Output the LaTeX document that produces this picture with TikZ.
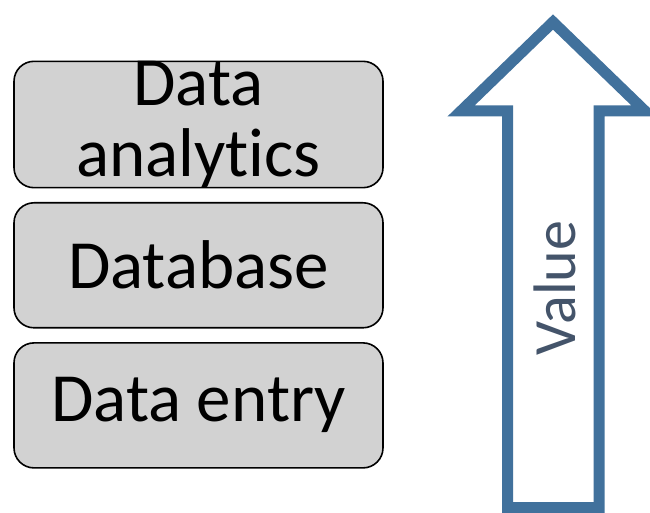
\documentclass[tikz,border=0pt]{standalone}
\usepackage{fontspec}
\setmainfont[Ligatures=NoCommon]{Carlito}
\usetikzlibrary{positioning}
\definecolor{arrowblue}{HTML}{41719C}
\definecolor{valuetext}{HTML}{44546A}
\begin{document}
\begin{tikzpicture}[x=1pt,y=1pt,
    layer/.style={draw, line width=1.6pt, rounded corners=20pt, fill=gray!35,
                  minimum width=369pt, minimum height=125pt, inner sep=0pt,
                  font=\fontsize{69}{71}\selectfont, align=center}]
  \useasboundingbox (0,0) rectangle (650,512);

  \node[layer] (analytics) at (198.5,387.5) {Data\\analytics};
  \node[layer, below=13.5pt of analytics] (database) {Database};
  \node[layer, below=13.5pt of database] (entry) {Data entry};

  % value arrow
  \draw[arrowblue, line width=11pt, miter limit=10, fill=white]
    (507.5,4.5) -- (599,4.5) -- (599,401) -- (645,401) -- (553,490)
    -- (461,401) -- (507.5,401) -- cycle;
  \node[rotate=90, text=valuetext, font=\fontsize{60}{62}\selectfont] (value) at (555,224) {Value};
\end{tikzpicture}
\end{document}
